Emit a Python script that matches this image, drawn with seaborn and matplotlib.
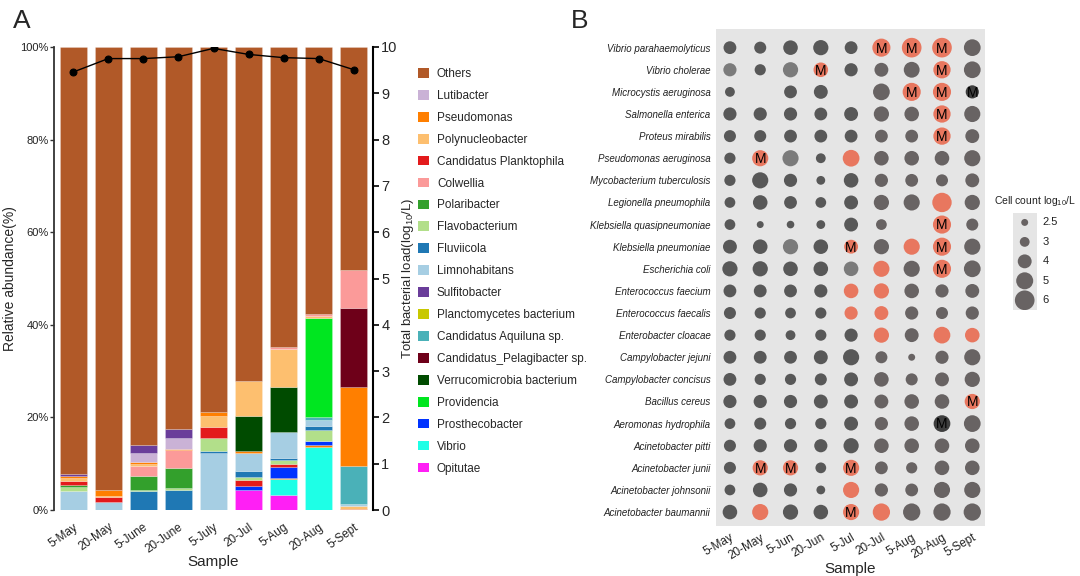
import numpy as np
import pandas as pd
import matplotlib
matplotlib.use('Agg')
import matplotlib.pyplot as plt
from matplotlib.patches import Patch
import seaborn as sns

# ---- panel A data: relative abundance (%), segments listed bottom -> top, "Others" fills to 100
samples_a = ['5-May', '20-May', '5-June', '20-June', '5-July', '20-Jul', '5-Aug', '20-Aug', '5-Sept']

genera = ['Others', 'Lutibacter', 'Pseudomonas', 'Polynucleobacter', 'Candidatus Planktophila',
          'Colwellia', 'Polaribacter', 'Flavobacterium', 'Fluviicola', 'Limnohabitans',
          'Sulfitobacter', 'Planctomycetes bacterium', 'Candidatus Aquiluna sp.',
          'Candidatus_Pelagibacter sp.', 'Verrucomicrobia bacterium', 'Providencia',
          'Prosthecobacter', 'Vibrio', 'Opitutae']
genus_colors = ['#B15928', '#CAB2D6', '#FF7F00', '#FDBF6F', '#E31A1C',
                '#FB9A99', '#33A02C', '#B2DF8A', '#1F78B4', '#A6CEE3',
                '#6A3D9A', '#C8C800', '#4AB1B8',
                '#6E0019', '#004B00', '#00E620',
                '#0033FF', '#1EFFE6', '#FF1FF5']

may5 = [('Limnohabitans', 4.0), ('Flavobacterium', 0.95), ('Polaribacter', 0.5),
        ('Candidatus Planktophila', 0.85), ('Polynucleobacter', 0.6), ('Pseudomonas', 0.5),
        ('Sulfitobacter', 0.4)]
may20 = [('Limnohabitans', 1.7), ('Candidatus Planktophila', 1.0), ('Polynucleobacter', 0.4),
         ('Pseudomonas', 1.15)]
jun5 = [('Fluviicola', 4.0), ('Flavobacterium', 0.35), ('Polaribacter', 3.0), ('Colwellia', 2.25),
        ('Polynucleobacter', 0.35), ('Pseudomonas', 0.5), ('Lutibacter', 1.95), ('Sulfitobacter', 1.65)]
jun20 = [('Fluviicola', 4.35), ('Flavobacterium', 0.5), ('Polaribacter', 4.25), ('Colwellia', 3.9),
         ('Pseudomonas', 0.2), ('Lutibacter', 2.3), ('Sulfitobacter', 2.0)]
jul5 = [('Limnohabitans', 12.3), ('Fluviicola', 0.35), ('Flavobacterium', 2.9),
        ('Candidatus Planktophila', 2.3), ('Polynucleobacter', 2.4), ('Pseudomonas', 0.85)]
jul20 = [('Opitutae', 4.35), ('Prosthecobacter', 0.9), ('Candidatus Planktophila', 1.2),
         ('Flavobacterium', 0.7), ('Fluviicola', 1.3), ('Limnohabitans', 3.8), ('Pseudomonas', 0.4),
         ('Verrucomicrobia bacterium', 7.7), ('Polynucleobacter', 7.5)]
aug5 = [('Opitutae', 3.25), ('Vibrio', 3.4), ('Pseudomonas', 0.35), ('Prosthecobacter', 2.2),
        ('Candidatus Planktophila', 0.8), ('Flavobacterium', 0.7), ('Fluviicola', 0.45),
        ('Limnohabitans', 5.7), ('Verrucomicrobia bacterium', 9.8), ('Polynucleobacter', 8.2),
        ('Colwellia', 0.3)]
aug20 = [('Vibrio', 13.6), ('Pseudomonas', 0.5), ('Prosthecobacter', 0.7),
         ('Candidatus Planktophila', 0.2), ('Flavobacterium', 2.2), ('Fluviicola', 1.0),
         ('Limnohabitans', 1.15), ('Candidatus Aquiluna sp.', 0.65), ('Providencia', 21.5),
         ('Polynucleobacter', 0.4), ('Colwellia', 0.4)]
sep5 = [('Candidatus Planktophila', 0.2), ('Polynucleobacter', 0.6), ('Limnohabitans', 0.55),
        ('Candidatus Aquiluna sp.', 8.1), ('Pseudomonas', 17.2), ('Candidatus_Pelagibacter sp.', 17.0),
        ('Colwellia', 8.1)]
bars_a = [may5, may20, jun5, jun20, jul5, jul20, aug5, aug20, sep5]

# total bacterial load, log10/L
total_load = [9.46, 9.75, 9.75, 9.79, 9.97, 9.84, 9.77, 9.75, 9.51]

# ---- panel B data: cell counts log10/L (nan = not detected)
samples_b = ['5-May', '20-May', '5-Jun', '20-Jun', '5-Jul', '20-Jul', '5-Aug', '20-Aug', '5-Sept']
species = ['Vibrio parahaemolyticus', 'Vibrio cholerae', 'Microcystis aeruginosa',
           'Salmonella enterica', 'Proteus mirabilis', 'Pseudomonas aeruginosa',
           'Mycobacterium tuberculosis', 'Legionella pneumophila', 'Klebsiella quasipneumoniae',
           'Klebsiella pneumoniae', 'Escherichia coli', 'Enterococcus faecium',
           'Enterococcus faecalis', 'Enterobacter cloacae', 'Campylobacter jejuni',
           'Campylobacter concisus', 'Bacillus cereus', 'Aeromonas hydrophila',
           'Acinetobacter pitti', 'Acinetobacter junii', 'Acinetobacter johnsonii',
           'Acinetobacter baumannii']
nan = np.nan
cell_counts = [
    [3.7, 3.5, 4.2, 4.4, 3.7, 5.4, 7.3, 7.8, 4.9],
    [3.8, 3.3, 4.4, 4.2, 3.8, 4.0, 4.6, 5.1, 4.9],
    [3.0, nan, 3.7, 4.0, nan, 4.9, 5.4, 5.4, 3.8],
    [3.8, 3.8, 3.8, 3.7, 4.0, 4.4, 4.2, 5.1, 4.7],
    [3.5, 3.5, 3.7, 3.7, 3.7, 3.7, 3.7, 5.1, 4.0],
    [3.3, 4.7, 4.7, 3.0, 4.9, 4.2, 4.2, 4.2, 4.7],
    [3.3, 4.7, 3.8, 2.8, 4.2, 3.8, 3.7, 3.5, 4.0],
    [3.2, 4.2, 3.7, 3.2, 4.0, 4.4, 4.7, 5.9, 4.4],
    [3.2, 2.5, 2.6, 2.8, 4.0, 3.2, nan, 5.4, 3.5],
    [4.0, 4.2, 4.4, 4.2, 4.0, 4.4, 4.7, 5.4, 4.7],
    [4.4, 4.4, 4.2, 4.2, 4.2, 4.7, 4.7, 5.4, 4.9],
    [3.7, 3.7, 3.7, 3.8, 4.2, 4.4, 4.2, 3.8, 4.0],
    [3.5, 3.3, 3.2, 3.3, 3.8, 4.0, 3.8, 3.5, 3.8],
    [3.3, 3.3, 3.0, 3.3, 3.8, 4.4, 4.0, 4.9, 4.2],
    [3.7, 3.7, 3.7, 4.0, 4.7, 3.5, 2.3, 3.8, 4.7],
    [3.7, 3.3, 3.3, 3.5, 4.0, 4.2, 3.5, 4.0, 4.4],
    [3.8, 3.8, 3.8, 4.0, 4.0, 4.0, 4.2, 4.2, 4.4],
    [3.2, 3.5, 3.3, 3.3, 4.0, 3.8, 4.2, 4.9, 4.9],
    [3.5, 3.8, 3.8, 3.8, 4.4, 4.2, 4.2, 4.2, 4.2],
    [3.5, 4.4, 4.4, 3.2, 4.7, 3.7, 3.3, 4.2, 4.2],
    [3.2, 4.2, 3.8, 2.8, 4.7, 3.8, 3.7, 4.7, 4.7],
    [4.2, 4.7, 4.4, 4.2, 4.7, 5.1, 5.1, 5.1, 5.1],
]
# n = normal, l = light, r = highlighted, k = dark
status_codes = ['nnnnnrrrn', 'lnlrnnnrn', 'nnnnnnrrk', 'nnnnnnnrn', 'nnnnnnnrn', 'nrlnrnnnn',
                'nnnnnnnnn', 'nnnnnnnrn', 'nnnnnnnrn', 'nnlnrnrrn', 'nnnnlrnrn', 'nnnnrrnnn',
                'nnnnrrnnn', 'nnnnnrnrr', 'nnnnnnnnn', 'nnnnnnnnn', 'nnnnnnnnr', 'nnnnnnnkn',
                'nnnnnnnnn', 'nrrnrnnnn', 'nnnnrnnnn', 'nrnnrrnnn']
mag_marks = ['.....MMM.', '...M...M.', '......MMM', '.......M.', '.......M.', '.M.......',
             '.........', '.........', '.......M.', '....M..M.', '.......M.', '.........',
             '.........', '.........', '.........', '.........', '........M', '.......M.',
             '.........', '.MM.M....', '.........', '....M....']
legend_levels = [2.5, 3, 4, 5, 6]

# ---------------------------------------------------------------
sns.set_theme(style='white')
plt.rcParams['font.family'] = ['Liberation Sans', 'DejaVu Sans']
plt.rcParams['mathtext.fontset'] = 'custom'
plt.rcParams['mathtext.rm'] = 'Liberation Sans'
plt.rcParams['mathtext.it'] = 'Liberation Sans:italic'

W, H = 1080, 576
fig = plt.figure(figsize=(10.8, 5.76), dpi=100)

def fig_box(x0, y0, x1, y1):
    return [x0 / W, 1 - y1 / H, (x1 - x0) / W, (y1 - y0) / H]

# ---------------- Panel A ----------------
pal = dict(zip(genera, genus_colors))
axA = fig.add_axes(fig_box(54, 47, 373, 510))
for i, segs in enumerate(bars_a):
    segs = segs + [('Others', 100 - sum(v for _, v in segs))]
    bottom = 0
    for name, val in segs:
        axA.bar(i, val, bottom=bottom, width=0.78, color=pal[name],
                edgecolor=(1, 1, 1, 0.35), linewidth=0.4)
        bottom += val
axA.set_xlim(-0.55, 8.55)
axA.set_ylim(0, 100)
axA.set_yticks([0, 20, 40, 60, 80, 100], ['0%', '20%', '40%', '60%', '80%', '100%'], fontsize=8)
axA.set_xticks(range(len(samples_a)), samples_a, rotation=35, ha='right',
               rotation_mode='anchor', fontsize=8.5)
axA.tick_params(axis='y', left=True, length=3, width=1, color='#333333', pad=1, labelcolor='#222222')
axA.tick_params(axis='x', bottom=False, pad=2, labelcolor='#222222')
for s in ['top', 'bottom', 'right']:
    axA.spines[s].set_visible(False)
axA.spines['left'].set_color('#333333')
axA.spines['left'].set_linewidth(1.3)
axA.set_ylabel('Relative abundance(%)', fontsize=10, labelpad=2)
axA.set_xlabel('Sample', fontsize=11, labelpad=0)

axR = axA.twinx()
sns.lineplot(x=list(range(len(samples_a))), y=total_load, ax=axR, color='black',
             marker='o', markersize=5, linewidth=1, markeredgecolor='black')
axR.set_ylim(0, 10)
axR.set_yticks(range(11), [str(v) for v in range(11)], fontsize=10.5)
axR.tick_params(axis='y', right=True, length=4, width=1.2, color='black', pad=2)
for s in ['top', 'bottom', 'left']:
    axR.spines[s].set_visible(False)
axR.spines['right'].set_color('black')
axR.spines['right'].set_linewidth(1.5)
axR.set_ylabel('Total bacterial load(log$_{10}$/L)', fontsize=9.5, labelpad=2)

handles = [Patch(facecolor=pal[g], edgecolor='none', label=g) for g in genera]
fig.legend(handles=handles, loc='upper left', bbox_to_anchor=(418 / W, 1 - 68 / H),
           frameon=False, fontsize=8.5, handlelength=0.9, handleheight=0.9,
           handletextpad=0.7, labelspacing=0.84, borderpad=0, borderaxespad=0)

fig.text(13 / W, 1 - 28 / H, 'A', fontsize=19, ha='left', va='baseline')
fig.text(571 / W, 1 - 28 / H, 'B', fontsize=19, ha='left', va='baseline')

# ---------------- Panel B ----------------
rows = []
for r, sp in enumerate(species):
    for c, smp in enumerate(samples_b):
        val = cell_counts[r][c]
        if np.isnan(val):
            continue
        code = status_codes[r][c]
        if code == 'n':
            tone = 'early' if c < 5 else 'late'
        else:
            tone = code
        rows.append({'row': r, 'col': c, 'count': val, 'tone': tone,
                     'mag': mag_marks[r][c] == 'M'})
df = pd.DataFrame(rows)

tone_pal = {'early': '#585858', 'late': '#686363', 'l': '#7b7b7b', 'r': '#E8775F', 'k': '#3e3e3e'}
size_range = (25, 200)
size_norm = (2.5, 6)

axB = fig.add_axes(fig_box(716, 29.3, 985, 526))
axB.set_facecolor('#E5E5E5')
sns.scatterplot(data=df, x='col', y='row', size='count', sizes=size_range, size_norm=size_norm,
                hue='tone', palette=tone_pal, linewidth=0, alpha=1, legend=False, ax=axB)
for _, rr in df[df['mag']].iterrows():
    axB.text(rr['col'], rr['row'] + 0.04, 'M', ha='center', va='center', fontsize=10, color='black')
axB.set_xlim(-0.46, 8.42)
axB.set_ylim(21.63, -0.83)
axB.set_yticks(range(len(species)), species, fontsize=7, fontstyle='italic')
axB.set_xticks(range(len(samples_b)), samples_b, rotation=30, ha='right',
               rotation_mode='anchor', fontsize=8.5)
axB.tick_params(axis='both', length=0, labelcolor='#222222', pad=4)
for s in axB.spines.values():
    s.set_visible(False)
axB.set_ylabel('')
axB.set_xlabel('Sample', fontsize=11, labelpad=0)

# size legend
axL = fig.add_axes(fig_box(1012.7, 212.7, 1036.7, 310))
axL.set_facecolor('#E5E5E5')
leg_df = pd.DataFrame({'x': [0] * len(legend_levels), 'y': range(len(legend_levels)),
                       'count': legend_levels})
sns.scatterplot(data=leg_df, x='x', y='y', size='count', sizes=size_range, size_norm=size_norm,
                color='#686363', linewidth=0, legend=False, ax=axL)
for i, lv in enumerate(legend_levels):
    axL.text(1.25, i, f'{lv:g}', ha='left', va='center', fontsize=8, color='#222222',
             transform=axL.get_yaxis_transform(), clip_on=False)
axL.set_xlim(-1, 1)
axL.set_ylim(4.5, -0.5)
axL.set_xticks([])
axL.set_yticks([])
axL.set_xlabel('')
axL.set_ylabel('')
for s in axL.spines.values():
    s.set_visible(False)
axL.text(-0.78, 1.05, 'Cell count log$_{10}$/L', transform=axL.transAxes, fontsize=7.5,
         ha='left', va='bottom', color='#222222')

fig.savefig('out.png', dpi=100)
